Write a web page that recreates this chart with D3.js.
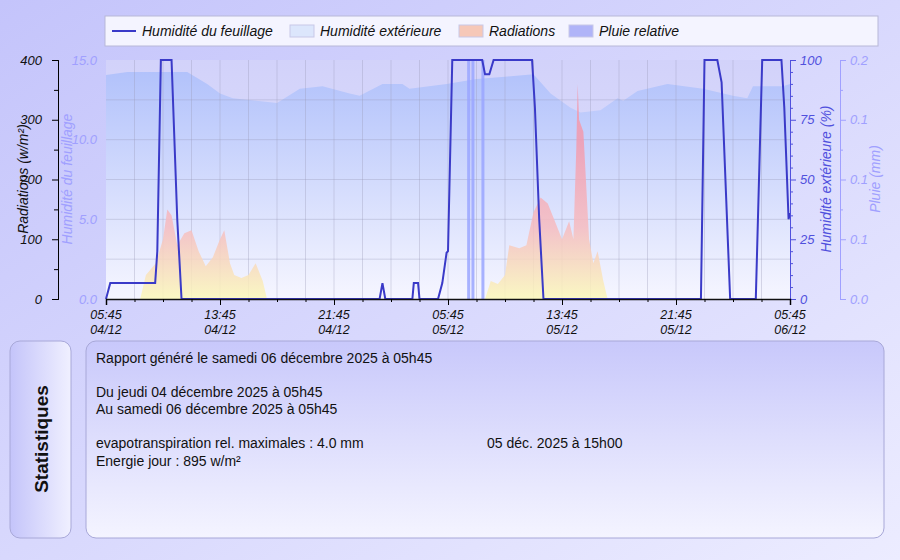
<!DOCTYPE html>
<html><head><meta charset="utf-8">
<script src="https://cdn.jsdelivr.net/npm/d3@7"></script>
<style>
body{margin:0;background:#fff;font-family:"Liberation Sans",Arial,sans-serif;}
svg text{font-family:"Liberation Sans",Arial,sans-serif;}
</style></head>
<body><div id="chart"></div>
<script>
// hours since 04/12 05:45
const humHours = [0,1.5,5.7,7.1,8,8.9,12,13.6,15.2,17.1,17.8,19.4,20.8,21.3,23.9,26,28,30,31.2,32.6,33.3,34.7,35.9,36.3,37.3,39.4,41.9,44,45,45.4,47.5,48];
const humValues = [93.7,95,95,90,86,84,82,88,89,86,85,90,90,88,90,92,93,94,86,80,78,79,84,83,87,90,88,85,84,89,89,90];

const radHours = [0,2.4,2.8,3.5,4,4.3,4.6,5,5.5,6,6.5,7,7.5,8,8.3,8.7,9,9.5,10,10.5,11,11.3,26.6,27,27.5,28,28.3,29,29.5,30,30.5,31,31.5,32,32.5,32.8,33,33.1,33.2,33.5,33.9,34.2,34.5,34.9,35.2,48];
const radValues = [0,0,40,60,100,150,140,90,110,115,80,55,70,100,115,60,40,35,40,60,30,0,0,30,25,40,90,85,90,145,170,160,130,100,130,100,250,360,300,280,100,60,80,30,0,0];

const leafHours = [0,0.3,3.45,3.6,3.85,4.6,5.0,5.3,19.2,19.4,19.6,21.5,21.6,21.9,22.0,23.3,23.6,23.9,24.0,24.3,26.4,26.6,26.9,27.2,29.9,30.1,30.4,30.7,41.75,42.0,42.9,43.2,43.8,45.6,46.05,47.4,47.6,47.9,48];
const leafValues = [0,1,1,3,15,15,5,0,0,1,0,0,1,1,0,0,1,2.9,3,15,15,14.1,14.1,15,15,12,5,0,0,15,15,13.6,0,0,15,15,12,5,5.4];

const rainHours = [25.45,25.75,26.45];
const rainValues = [0.2,0.2,0.2];

const xTickHours = [0,8,16,24,32,40,48];
const xTickLabels = [["05:45","04/12"],["13:45","04/12"],["21:45","04/12"],["05:45","05/12"],["13:45","05/12"],["21:45","05/12"],["05:45","06/12"]];

const legendItems = ["Humidité du feuillage","Humidité extérieure","Radiations","Pluie relative"];

const statLines = [
  ["Rapport généré le samedi 06 décembre 2025 à 05h45", 358, 96],
  ["Du jeudi 04 décembre 2025 à 05h45", 392, 96],
  ["Au samedi 06 décembre 2025 à 05h45", 409, 96],
  ["evapotranspiration rel. maximales : 4.0 mm", 443, 96],
  ["05 déc. 2025 à 15h00", 443, 487],
  ["Energie jour : 895 w/m²", 461, 96]
];

const W = 900, H = 560;
const svg = d3.select("#chart").append("svg").attr("width", W).attr("height", H);
const defs = svg.append("defs");
function grad(id, x2, y2, stops, user){
  const g = defs.append("linearGradient").attr("id", id);
  if (user) g.attr("gradientUnits","userSpaceOnUse").attr("x1",0).attr("y1",user[0]).attr("x2",0).attr("y2",user[1]);
  else g.attr("x1",0).attr("y1",0).attr("x2",x2).attr("y2",y2);
  stops.forEach(s => g.append("stop").attr("offset", s[0]).attr("stop-color", s[1]));
}
grad("bg",1,1,[[0,"#c4c4fb"],[1,"#ececff"]]);
grad("plotbg",0,1,[[0,"#d2d2fa"],[1,"#e4e4fb"]]);
grad("hum",0,1,[[0,"#b2c2fb"],[1,"#f6f6ff"]]);
grad("rad",0,0,[[0,"#f29aae"],[0.55,"#f6bcc0"],[1,"#fbf8b8"]],[140,299]);
grad("panel",0,1,[[0,"#c8c8fb"],[1,"#f4f4ff"]]);
grad("tab",1,0,[[0,"#c4c4fa"],[1,"#f0f0ff"]]);

svg.append("rect").attr("width",W).attr("height",H).attr("fill","url(#bg)");

const m = {left:106, right:790, top:60, bottom:299};
const x = d3.scaleLinear().domain([0,48]).range([m.left, m.right]);
const yRad = d3.scaleLinear().domain([0,400]).range([m.bottom, m.top]);
const yLeaf = d3.scaleLinear().domain([0,15]).range([m.bottom, m.top]);
const yHum = d3.scaleLinear().domain([0,100]).range([m.bottom, m.top]);
const yRain = d3.scaleLinear().domain([0,0.2]).range([m.bottom, m.top]);

svg.append("rect").attr("x",m.left).attr("y",m.top).attr("width",m.right-m.left).attr("height",m.bottom-m.top).attr("fill","url(#plotbg)");

// humidity area
const humData = humHours.map((h,i)=>[h,humValues[i]]);
svg.append("path").datum(humData)
  .attr("d", d3.area().x(d=>x(d[0])).y0(m.bottom).y1(d=>yHum(d[1])))
  .attr("fill","url(#hum)");

// grid
const g = svg.append("g").attr("stroke","#9a9ab8").attr("stroke-opacity",0.35);
d3.range(2,48,2).forEach(h => g.append("line").attr("x1",x(h)).attr("x2",x(h)).attr("y1",m.top).attr("y2",m.bottom));
d3.range(1,6).forEach(i => g.append("line").attr("x1",m.left).attr("x2",m.right).attr("y1",yHum(i*100/6)).attr("y2",yHum(i*100/6)));

// radiation area
const radData = radHours.map((h,i)=>[h,radValues[i]]);
svg.append("path").datum(radData)
  .attr("d", d3.area().x(d=>x(d[0])).y0(m.bottom).y1(d=>yRad(d[1])))
  .attr("fill","url(#rad)").attr("opacity",0.85);

// rain bars
svg.selectAll(".rain").data(rainHours.map((h,i)=>[h,rainValues[i]])).join("rect")
  .attr("x", d=>x(d[0])-1.5).attr("width",3).attr("y", d=>yRain(d[1])).attr("height", d=>m.bottom-yRain(d[1]))
  .attr("fill","#9aa6ff").attr("opacity",0.85);

// leaf wetness line
const leafData = leafHours.map((h,i)=>[h,leafValues[i]]);
svg.append("path").datum(leafData)
  .attr("d", d3.line().x(d=>x(d[0])).y(d=>yLeaf(d[1])))
  .attr("fill","none").attr("stroke","#3a3ac8").attr("stroke-width",2);

// axes
const font = (sel, col) => sel.selectAll("text").attr("font-size",13).attr("font-style","italic").attr("fill",col);
const aRad = svg.append("g").attr("transform",`translate(58,0)`)
  .call(d3.axisLeft(yRad).tickValues([0,100,200,300,400]).tickSize(6).tickPadding(10));
aRad.call(s=>font(s,"#111"));
svg.append("g").attr("transform",`translate(58,0)`)
  .call(d3.axisLeft(yRad).tickValues([50,150,250,350]).tickSize(4).tickFormat(""));
svg.append("g").attr("transform",`translate(103,0)`)
  .call(d3.axisLeft(yLeaf).tickValues([0,5,10,15]).tickFormat(d3.format(".1f")).tickSize(0).tickPadding(6))
  .call(s=>s.select(".domain").remove()).call(s=>font(s,"#a0a0ff"));

const aHum = svg.append("g").attr("transform",`translate(${m.right},0)`)
  .call(d3.axisRight(yHum).tickValues([0,25,50,75,100]).tickSize(6).tickPadding(4));
aHum.call(s=>font(s,"#5050dd")); aHum.selectAll("line,path").attr("stroke","#5050dd");
svg.append("g").attr("transform",`translate(${m.right},0)`)
  .call(d3.axisRight(yHum).tickValues(d3.range(5,100,5).filter(v=>v%25)).tickSize(3).tickFormat(""))
  .selectAll("line,path").attr("stroke","#5050dd");
const aRain = svg.append("g").attr("transform",`translate(840,0)`)
  .call(d3.axisRight(yRain).tickValues([0,0.05,0.1,0.15,0.2]).tickFormat(d3.format(".1f")).tickSize(6).tickPadding(4));
aRain.call(s=>font(s,"#a0a0ff")); aRain.selectAll("line,path").attr("stroke","#a0a0ff");
svg.append("g").attr("transform",`translate(840,0)`)
  .call(d3.axisRight(yRain).tickValues([0.025,0.075,0.125,0.175]).tickSize(3).tickFormat(""))
  .selectAll("line,path").attr("stroke","#a0a0ff");

const ax = svg.append("g").attr("transform",`translate(0,${m.bottom})`)
  .call(d3.axisBottom(x).tickValues(xTickHours).tickSize(6).tickFormat(""));
ax.select(".domain").attr("stroke","#111").attr("stroke-width",1.5);
svg.append("g").attr("transform",`translate(0,${m.bottom})`)
  .call(d3.axisBottom(x).tickValues(d3.range(2,48,2).filter(h=>h%8)).tickSize(3).tickFormat(""))
  .select(".domain").remove();
xTickHours.forEach((h,i)=>{
  const t = svg.append("text").attr("x",x(h)).attr("text-anchor","middle").attr("font-size",12.5).attr("font-style","italic").attr("fill","#111");
  t.append("tspan").attr("x",x(h)).attr("y",319).text(xTickLabels[i][0]);
  t.append("tspan").attr("x",x(h)).attr("y",334).text(xTickLabels[i][1]);
});

const title = (tx,ty,txt,col) => svg.append("text").attr("transform",`translate(${tx},${ty}) rotate(-90)`)
  .attr("text-anchor","middle").attr("font-size",14).attr("font-style","italic").attr("fill",col).text(txt);
title(28,179,"Radiations (w/m²)","#111");
title(72,179,"Humidité du feuillage","#a0a0ff");
title(831,179,"Humidité extérieure (%)","#5050dd");
title(880,179,"Pluie (mm)","#a0a0ff");

// legend
svg.append("rect").attr("x",105).attr("y",16).attr("width",773).attr("height",30).attr("fill","#f4f4ff").attr("stroke","#b8b8d8");
const lx = [112,290,459,569];
const lcol = [null,"#dce6fc","#f6c8b8","#b0b4f8"];
legendItems.forEach((txt,i)=>{
  if(i===0) svg.append("line").attr("x1",lx[i]).attr("x2",lx[i]+24).attr("y1",31).attr("y2",31).attr("stroke","#3a3ac8").attr("stroke-width",2);
  else svg.append("rect").attr("x",lx[i]).attr("y",25).attr("width",24).attr("height",12).attr("fill",lcol[i]).attr("stroke","#c8c8e8");
  svg.append("text").attr("x",lx[i]+30).attr("y",36).attr("font-size",14).attr("font-style","italic").attr("fill","#111").text(txt);
});

// stats panel
svg.append("rect").attr("x",10).attr("y",341).attr("width",61).attr("height",197).attr("rx",10).attr("fill","url(#tab)").attr("stroke","#a8a8d8");
svg.append("text").attr("transform","translate(48,439) rotate(-90)").attr("text-anchor","middle").attr("font-size",19).attr("font-weight","bold").attr("fill","#111").text("Statistiques");
svg.append("rect").attr("x",86).attr("y",341).attr("width",798).attr("height",197).attr("rx",10).attr("fill","url(#panel)").attr("stroke","#a8a8d8");
svg.selectAll(".stat").data(statLines).join("text").attr("class","stat")
  .attr("x",d=>d[2]).attr("y",d=>d[1]+5).attr("font-size",14).attr("fill","#111").text(d=>d[0]);
</script></body></html>
